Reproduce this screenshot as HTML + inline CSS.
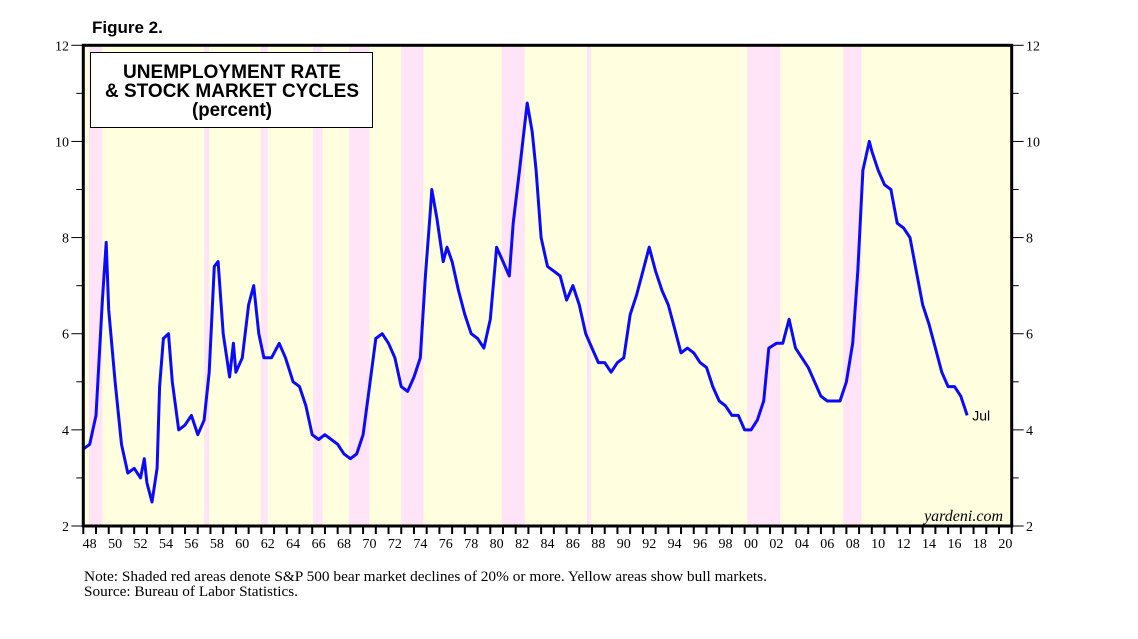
<!DOCTYPE html>
<html><head><meta charset="utf-8"><style>
body{margin:0;background:#fff;width:1138px;height:634px;overflow:hidden}
text{font-family:"Liberation Serif",serif}
</style></head><body>
<svg id="chart" width="1138" height="634" xmlns="http://www.w3.org/2000/svg">
<text x="92" y="33" font-weight="bold" font-size="17" style="font-family:'Liberation Sans',sans-serif">Figure 2.</text>
<g id="plot"></g>
<text x="84" y="581" font-size="14.5" textLength="683" lengthAdjust="spacingAndGlyphs">Note: Shaded red areas denote S&amp;P 500 bear market declines of 20% or more. Yellow areas show bull markets.</text>
<text x="84" y="596" font-size="14.5" textLength="214" lengthAdjust="spacingAndGlyphs">Source: Bureau of Labor Statistics.</text>
</svg>
<script>
const bearStarts=[1948.45,1957.5,1961.96,1966.07,1968.9,1973.0,1980.9,1987.6,2000.2,2007.75];
const bearEnds=[1949.5,1957.9,1962.5,1966.8,1970.5,1974.75,1982.7,1987.9,2002.8,2009.2];
const dates=[1948.0,1948.5,1949.0,1949.5,1949.8,1950.0,1950.5,1951.0,1951.5,1952.0,1952.5,1952.8,1953.0,1953.4,1953.8,1954.0,1954.3,1954.7,1955.0,1955.5,1956.0,1956.5,1957.0,1957.5,1957.9,1958.3,1958.6,1959.0,1959.5,1959.8,1960.0,1960.5,1961.0,1961.4,1961.8,1962.2,1962.8,1963.4,1963.9,1964.5,1965.0,1965.5,1966.0,1966.5,1967.0,1967.5,1968.0,1968.5,1969.0,1969.5,1970.0,1970.5,1971.0,1971.5,1972.0,1972.5,1973.0,1973.5,1974.0,1974.5,1974.9,1975.3,1975.4,1975.8,1976.3,1976.6,1977.0,1977.5,1978.0,1978.5,1979.0,1979.5,1980.0,1980.4,1980.5,1981.0,1981.5,1981.8,1982.3,1982.9,1983.3,1983.6,1984.0,1984.5,1985.0,1985.5,1986.0,1986.5,1987.0,1987.5,1988.0,1988.5,1989.0,1989.5,1990.0,1990.5,1991.0,1991.5,1992.0,1992.5,1993.0,1993.5,1994.0,1994.5,1995.0,1995.5,1996.0,1996.5,1997.0,1997.5,1998.0,1998.5,1999.0,1999.5,2000.0,2000.5,2001.0,2001.5,2001.9,2002.5,2003.0,2003.5,2004.0,2004.5,2005.0,2005.5,2006.0,2006.5,2007.0,2007.5,2008.0,2008.5,2008.9,2009.3,2009.8,2010.0,2010.5,2011.0,2011.5,2012.0,2012.5,2013.0,2013.5,2014.0,2014.5,2015.0,2015.5,2016.0,2016.5,2017.0,2017.5];
const rates=[3.6,3.7,4.3,6.7,7.9,6.5,5.0,3.7,3.1,3.2,3.0,3.4,2.9,2.5,3.2,4.9,5.9,6.0,5.0,4.0,4.1,4.3,3.9,4.2,5.2,7.4,7.5,6.0,5.1,5.8,5.2,5.5,6.6,7.0,6.0,5.5,5.5,5.8,5.5,5.0,4.9,4.5,3.9,3.8,3.9,3.8,3.7,3.5,3.4,3.5,3.9,4.9,5.9,6.0,5.8,5.5,4.9,4.8,5.1,5.5,7.2,8.6,9.0,8.4,7.5,7.8,7.5,6.9,6.4,6.0,5.9,5.7,6.3,7.5,7.8,7.5,7.2,8.3,9.4,10.8,10.2,9.4,8.0,7.4,7.3,7.2,6.7,7.0,6.6,6.0,5.7,5.4,5.4,5.2,5.4,5.5,6.4,6.8,7.3,7.8,7.3,6.9,6.6,6.1,5.6,5.7,5.6,5.4,5.3,4.9,4.6,4.5,4.3,4.3,4.0,4.0,4.2,4.6,5.7,5.8,5.8,6.3,5.7,5.5,5.3,5.0,4.7,4.6,4.6,4.6,5.0,5.8,7.3,9.4,10.0,9.8,9.4,9.1,9.0,8.3,8.2,8.0,7.3,6.6,6.2,5.7,5.2,4.9,4.9,4.7,4.3];
const yTicks=[2,4,6,8,10,12];
const xLabels=["48","50","52","54","56","58","60","62","64","66","68","70","72","74","76","78","80","82","84","86","88","90","92","94","96","98","00","02","04","06","08","10","12","14","16","18","20"];

const L=83.3,R=1011.7,T=45.3,B=526,Y0=1948,Y1=2021,V0=2,V1=12;
const xs=d=>L+(d-Y0)*(R-L)/(Y1-Y0);
const ys=v=>B-(v-V0)*(B-T)/(V1-V0);
const NS="http://www.w3.org/2000/svg";
const g=document.getElementById('plot');
function mk(tag,at){const e=document.createElementNS(NS,tag);for(const k in at)e.setAttribute(k,at[k]);g.appendChild(e);return e;}
let e=mk('rect',{x:L,y:T,width:R-L,height:B-T,fill:'#ffffe0'});


bearStarts.forEach((s,i)=>{const r=mk('rect',{x:xs(s),y:T,width:xs(bearEnds[i])-xs(s),height:B-T,fill:'#ffe4f8'});

});
e=mk('rect',{x:90.5,y:52.5,width:282,height:75,fill:'#fff',stroke:'#000','stroke-width':1});


[["UNEMPLOYMENT RATE",78,218],["& STOCK MARKET CYCLES",97,254],["(percent)",116,80]].forEach(([t,y,w])=>{const tx=mk('text',{x:232,y:y,'text-anchor':'middle','font-size':19,'font-weight':'bold',textLength:w,lengthAdjust:'spacingAndGlyphs',style:"font-family:'Liberation Sans',sans-serif"});tx.textContent=t;

});
let d='';dates.forEach((t,i)=>{d+=(i?'L':'M')+xs(t).toFixed(1)+','+ys(rates[i]).toFixed(1);});
e=mk('path',{d:d,fill:'none',stroke:'#0a0aff','stroke-width':3,'stroke-linejoin':'round'});


e=mk('text',{x:xs(dates[dates.length-1])+5,y:ys(rates[rates.length-1])+5,'font-size':14,style:"font-family:'Liberation Sans',sans-serif"});e.textContent='Jul';


e=mk('text',{x:1003,y:521,'text-anchor':'end','font-size':16,'font-style':'italic'});e.textContent='yardeni.com';


e=mk('rect',{x:L,y:T,width:R-L,height:B-T,fill:'none',stroke:'#000','stroke-width':3});


for(let v=V0;v<=V1;v++){const y=ys(v),big=v%2==0;
mk('line',{x1:L-(big?12:7),x2:L,y1:y,y2:y,stroke:'#000','stroke-width':1});
mk('line',{x1:R,x2:R+(big?12:7),y1:y,y2:y,stroke:'#000','stroke-width':1});}
yTicks.forEach(v=>{const y=ys(v)+5;
let a=mk('text',{x:69,y:y,'text-anchor':'end','font-size':14});a.textContent=v;


let b=mk('text',{x:1026,y:y,'font-size':14});b.textContent=v;

});
for(let yr=Y0;yr<=Y1;yr++){mk('line',{x1:xs(yr),x2:xs(yr),y1:B,y2:B+8,stroke:'#000','stroke-width':2});}
xLabels.forEach((l,i)=>{const t=mk('text',{x:xs(Y0+2*i+0.5),y:548,'text-anchor':'middle','font-size':14});t.textContent=l;

});
</script>
</body></html>
